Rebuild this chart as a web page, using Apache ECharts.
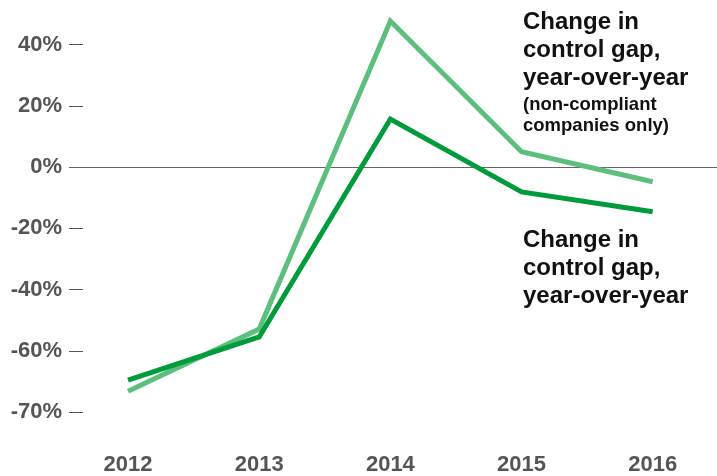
<!DOCTYPE html>
<html>
<head>
<meta charset="utf-8">
<script src="https://cdn.jsdelivr.net/npm/echarts@6/dist/echarts.min.js"></script>
<style>
  html, body { margin: 0; padding: 0; background: #fff; }
  #chart { width: 717px; height: 476px; }
</style>
</head>
<body>
<div id="chart"></div>
<script>
// Years on the horizontal axis
const years = [2012, 2013, 2014, 2015, 2016];

// Change in control gap, year-over-year (%), non-compliant companies only
const nonCompliant = [-73.2, -52.9, 47.7, 5.0, -4.8];

// Change in control gap, year-over-year (%), all companies
const allCompanies = [-69.6, -55.5, 15.7, -8.1, -14.6];

// Vertical axis tick positions and the labels printed beside them
const yTickValues = [-80, -60, -40, -20, 0, 20, 40];
const yTickLabels = ['-70%', '-60%', '-40%', '-20%', '0%', '20%', '40%'];

const FONT = '"Liberation Sans", Arial, sans-serif';
const AXIS_GREY = '#555';
const LIGHT_GREEN = '#5cbf7e';
const DARK_GREEN = '#009c3b';

const pairs = (vals) => years.map((y, i) => [y, vals[i]]);

const chart = echarts.init(document.getElementById('chart'), null, { renderer: 'canvas' });

const annotationLines = [
  { text: 'Change in', y: 25, size: 24 },
  { text: 'control gap,', y: 53, size: 24 },
  { text: 'year-over-year', y: 81, size: 24 },
  { text: '(non-compliant', y: 107, size: 18.5 },
  { text: 'companies only)', y: 128, size: 18.5 },
  { text: 'Change in', y: 243, size: 24 },
  { text: 'control gap,', y: 271, size: 24 },
  { text: 'year-over-year', y: 299, size: 24 }
];

chart.setOption({
  animation: false,
  backgroundColor: '#ffffff',
  grid: { left: 69, right: 0, top: 14, bottom: 64, containLabel: false },
  xAxis: {
    type: 'value',
    min: 2011.55,
    max: 2016.49,
    splitLine: { show: false },
    axisLine: { show: false },
    axisTick: { show: false },
    axisLabel: {
      customValues: years,
      margin: 42,
      fontFamily: FONT,
      fontWeight: 'bold',
      fontSize: 22,
      color: AXIS_GREY,
      formatter: (v) => String(Math.round(v))
    }
  },
  yAxis: {
    type: 'value',
    min: -80,
    max: 50,
    splitLine: { show: false },
    axisLine: { show: false },
    axisTick: {
      show: true,
      inside: true,
      length: 14,
      customValues: yTickValues,
      lineStyle: { color: AXIS_GREY, width: 1 }
    },
    axisLabel: {
      customValues: yTickValues,
      margin: 7,
      fontFamily: FONT,
      fontWeight: 'bold',
      fontSize: 22,
      color: AXIS_GREY,
      formatter: (v) => {
        const i = yTickValues.indexOf(Math.round(v));
        return i >= 0 ? yTickLabels[i] : '';
      }
    }
  },
  series: [
    {
      name: 'Change in control gap, year-over-year (non-compliant companies only)',
      type: 'line',
      data: pairs(nonCompliant),
      showSymbol: false,
      symbol: 'none',
      lineStyle: { color: LIGHT_GREEN, width: 5, join: 'miter' },
      z: 3,
      markLine: {
        silent: true,
        symbol: 'none',
        label: { show: false },
        lineStyle: { color: '#666', width: 1, type: 'solid' },
        data: [{ yAxis: 0 }],
        z: 1
      }
    },
    {
      name: 'Change in control gap, year-over-year',
      type: 'line',
      data: pairs(allCompanies),
      showSymbol: false,
      symbol: 'none',
      lineStyle: { color: DARK_GREEN, width: 5, join: 'miter' },
      z: 4
    }
  ],
  graphic: annotationLines.map((l) => ({
    type: 'text',
    left: 523,
    top: l.y - l.size * 0.6,
    style: {
      text: l.text,
      font: `bold ${l.size}px ${FONT}`,
      fill: '#111',
      textVerticalAlign: 'top'
    },
    z: 10
  }))
});
</script>
</body>
</html>
